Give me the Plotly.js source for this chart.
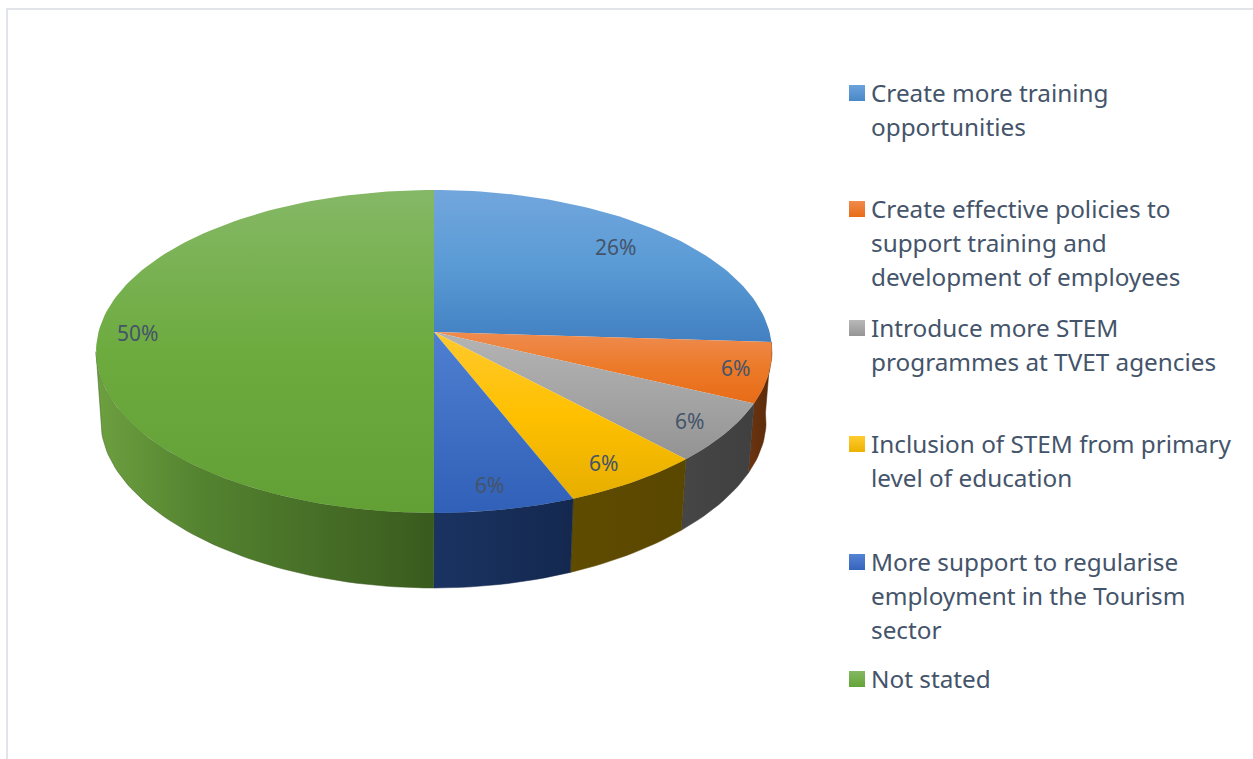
<!DOCTYPE html>
<html>
<head>
<meta charset="utf-8">
<script src="https://cdn.plot.ly/plotly-3.0.1.min.js"></script>
<style>html,body{margin:0;padding:0;background:#fff}#chart{width:1253px;height:759px}</style>
</head>
<body>
<div id="chart"></div>
<script>
// Survey shares, clockwise from twelve o'clock.
const categories = [
  'Create more training opportunities',
  'Create effective policies to support training and development of employees',
  'Introduce more STEM programmes at TVET agencies',
  'Inclusion of STEM from primary level of education',
  'More support to regularise employment in the Tourism sector',
  'Not stated'
];
const shares = [26, 6, 6, 6, 6, 50];
const legendLines = [
  ['Create more training', 'opportunities'],
  ['Create effective policies to', 'support training and', 'development of employees'],
  ['Introduce more STEM', 'programmes at TVET agencies'],
  ['Inclusion of STEM from primary', 'level of education'],
  ['More support to regularise', 'employment in the Tourism', 'sector'],
  ['Not stated']
];
const legendTops = [93, 209, 328, 444, 562, 679];
const labelSpots = [[615, 248], [735, 369], [689, 422], [603, 464], [489, 486], [137, 334]];

// Face and wall shading for each slice.
const faceLight = ['#72a6dd', '#ef8c50', '#b4b4b4', '#ffc92e', '#4f7fd0', '#85b866'];
const faceMid   = ['#5a9bd5', '#ec7a28', '#a5a5a5', '#ffc000', '#4070c4', '#6dab3f'];
const faceDark  = ['#4280c2', '#e86c18', '#939393', '#e6ae00', '#3060b8', '#62a036'];
const wallLeft  = ['#2a5078', '#6c3511', '#464646', '#604c00', '#1a3362', '#6da040'];
const wallMid   = ['#284d74', '#66310e', '#444444', '#5e4a00', '#18305c', '#548430'];
const wallRight = ['#264a70', '#582a0a', '#404040', '#5a4700', '#14284f', '#3a5a1e'];
const swatchLight = ['#6ba3dc', '#f08a4c', '#b8b8b8', '#ffcb30', '#5584d4', '#84b862'];
const swatchDark  = ['#4a88c8', '#e96d18', '#959595', '#ecb200', '#3564bc', '#64a438'];

// Perspective disc: maps an angle on the unit circle onto the page.
const pivot = {x: 434, y: 332};
const disc = {a: 335.5, b: 159.1, k: 0.1207};
const base = {x: 433.5, y: 403, scale: 0.984, b: 151.7, k: 0.18};
const ARC_STEP = 1.5;
const WALL_START = 90;
const WALL_LIMIT = 263; // leftmost point of the disc, where the wall turns out of view

function topPoint(deg) {
  const t = deg * Math.PI / 180, X = Math.sin(t), Y = -Math.cos(t);
  const w = 1 - disc.k * Y;
  return [pivot.x + disc.a * X / w, pivot.y + disc.b * Y / w];
}
function basePoint(deg) {
  const t = deg * Math.PI / 180, X = Math.sin(t), Y = -Math.cos(t);
  const w = 1 - disc.k * Y;
  return [base.x + base.scale * disc.a * X / w, base.y + base.b * Y / (1 - base.k * Y)];
}
function arc(fn, from, to) {
  const pts = [], n = Math.max(2, Math.ceil(Math.abs(to - from) / ARC_STEP));
  for (let i = 0; i <= n; i++) pts.push(fn(from + (to - from) * i / n));
  return pts;
}
const span = (vals) => [Math.min(...vals), Math.max(...vals)];

const total = shares.reduce((s, v) => s + v, 0);
const traces = [], faces = [];
let running = 0;
shares.forEach((share, i) => {
  const from = running / total * 360;
  running += share;
  const to = running / total * 360;

  // Outer wall: only slices on the near side of the disc show one.
  const wallEnd = Math.min(to, WALL_LIMIT);
  if (from >= WALL_START && from < wallEnd) {
    const pts = arc(topPoint, from, wallEnd).concat(arc(basePoint, wallEnd, from));
    const xs = pts.map(p => p[0]), ys = pts.map(p => p[1]);
    const [x0, x1] = span(xs);
    traces.push({
      type: 'scatter', mode: 'lines', x: xs.concat(xs[0]), y: ys.concat(ys[0]),
      fill: 'toself', line: {width: 0.5, color: wallRight[i]}, hoverinfo: 'skip',
      fillgradient: {type: 'horizontal', start: x0, stop: x1,
                     colorscale: [[0, wallLeft[i]], [0.3, wallMid[i]], [1, wallRight[i]]]}
    });
  }

  // Top face of the slice.
  const pts = [[pivot.x, pivot.y]].concat(arc(topPoint, from, to));
  const xs = pts.map(p => p[0]), ys = pts.map(p => p[1]);
  const [y0, y1] = span(ys);
  faces.push({
    type: 'scatter', mode: 'lines', x: xs.concat(xs[0]), y: ys.concat(ys[0]),
    fill: 'toself', line: {width: 0}, hovertext: categories[i], hoverinfo: 'text',
    fillgradient: {type: 'vertical', start: y0, stop: y1,
                   colorscale: [[0, faceLight[i]], [0.5, faceMid[i]], [1, faceDark[i]]]}
  });
});

// Legend swatches are real markers, one per category.
const swatches = categories.map((c, i) => ({
  type: 'scatter', mode: 'markers', x: [857], y: [legendTops[i]], hoverinfo: 'skip',
  marker: {symbol: 'square', size: 16, color: swatchLight[i], line: {width: 0},
           gradient: {type: 'vertical', color: swatchDark[i]}}
}));

const TEXT = '#44546a';
const annotations = [];
shares.forEach((share, i) => {
  annotations.push({
    x: labelSpots[i][0], y: labelSpots[i][1] - 1, text: share + '%', showarrow: false,
    xanchor: 'center', yanchor: 'middle', font: {family: 'Noto Sans', size: 21, color: TEXT}
  });
});
const LINE_PITCH = 34.3;
legendLines.forEach((lines, i) => {
  lines.forEach((line, j) => {
    annotations.push({
      x: 871, y: legendTops[i] - 1 + j * LINE_PITCH, text: line, showarrow: false,
      xanchor: 'left', xshift: -2, yanchor: 'middle', font: {family: 'Noto Sans', size: 24.3, color: TEXT}
    });
  });
});

const FRAME = '#e1e5e9';
const layout = {
  width: 1253, height: 759, showlegend: false,
  margin: {l: 0, r: 0, t: 0, b: 0},
  paper_bgcolor: '#ffffff', plot_bgcolor: '#ffffff',
  xaxis: {range: [0, 1253], visible: false, fixedrange: true},
  yaxis: {range: [759, 0], visible: false, fixedrange: true},
  annotations,
  shapes: [
    {type: 'line', x0: 7, x1: 7, y0: 8, y1: 759, line: {color: FRAME, width: 2}},
    {type: 'line', x0: 6, x1: 1253, y0: 9, y1: 9, line: {color: FRAME, width: 2}}
  ]
};
Plotly.newPlot('chart', traces.concat(faces, swatches), layout, {displayModeBar: false, responsive: false});
</script>
</body>
</html>
